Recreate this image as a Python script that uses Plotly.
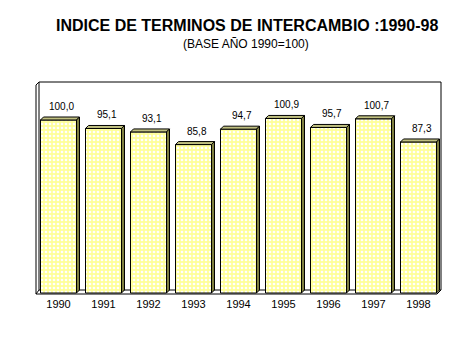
import plotly.graph_objects as go

years = ["1990", "1991", "1992", "1993", "1994", "1995", "1996", "1997", "1998"]
values = [100.0, 95.1, 93.1, 85.8, 94.7, 100.9, 95.7, 100.7, 87.3]
value_labels = ["100,0", "95,1", "93,1", "85,8", "94,7", "100,9", "95,7", "100,7", "87,3"]

title_text = "INDICE DE TERMINOS DE INTERCAMBIO :1990-98"
subtitle_text = "(BASE AÑO 1990=100)"

W, H = 476, 356
PL, PR, PT, PB = 36, 441, 82, 294      # plot area in pixels
PX_PER_UNIT = 1.73
Y_ZERO_PIX = 293
y_lo = -(PB - Y_ZERO_PIX) / PX_PER_UNIT
y_hi = (Y_ZERO_PIX - PT) / PX_PER_UNIT
cat_px = (PR - PL) / len(years)
BAR_W = 0.8
DX = 3 / cat_px
DY = 3 / PX_PER_UNIT

FONT = "Arial, Liberation Sans, sans-serif"
FRONT = "#ffff99"
TOP = "#c0c080"
SIDE = "#808040"


def px(xp):
    return (xp - PL) / (PR - PL)


def py(yp):
    return (PB - yp) / (PB - PT)


xs = list(range(len(years)))

fig = go.Figure()
fig.add_trace(go.Bar(
    x=xs, y=values, width=BAR_W,
    marker=dict(color=FRONT, line=dict(color="black", width=1),
                pattern=dict(shape=".", bgcolor=FRONT, fgcolor="white",
                             size=4, solidity=0.35, fillmode="replace")),
    hoverinfo="skip", showlegend=False,
))

shapes = []
# floor and walls
shapes.append(dict(type="path", xref="paper", yref="paper", layer="below",
                   path=f"M {px(36)},{py(294)} L {px(39)},{py(290)} L {px(441)},{py(290)} L {px(437)},{py(294)} Z",
                   fillcolor="white", line=dict(color="black", width=1)))
shapes.append(dict(type="path", xref="paper", yref="paper", layer="below",
                   path=f"M {px(39)},{py(290)} L {px(39)},{py(82)} L {px(441)},{py(82)} L {px(441)},{py(290)}",
                   line=dict(color="black", width=1)))
shapes.append(dict(type="path", xref="paper", yref="paper", layer="below",
                   path=f"M {px(36)},{py(294)} L {px(36)},{py(85)} L {px(39)},{py(82)}",
                   line=dict(color="black", width=1)))

for i, v in enumerate(values):
    x0 = i - BAR_W / 2
    x1 = i + BAR_W / 2
    shapes.append(dict(type="path", xref="x", yref="y", layer="above",
                       path=f"M {x0},{v} L {x0+DX},{v+DY} L {x1+DX},{v+DY} L {x1},{v} Z",
                       fillcolor=TOP, line=dict(color="black", width=1)))
    shapes.append(dict(type="path", xref="x", yref="y", layer="above",
                       path=f"M {x1},{0} L {x1},{v} L {x1+DX},{v+DY} L {x1+DX},{DY} Z",
                       fillcolor=SIDE, line=dict(color="black", width=1)))

annotations = []
for i, (v, t) in enumerate(zip(values, value_labels)):
    annotations.append(dict(x=i, y=v, xref="x", yref="y", text=t, showarrow=False,
                            xanchor="center", yanchor="bottom", yshift=6, xshift=3,
                            font=dict(family=FONT, size=10, color="black")))
annotations.append(dict(x=px(247), y=py(25), xref="paper", yref="paper", text=f"<b>{title_text}</b>",
                        showarrow=False, xanchor="center", yanchor="middle",
                        font=dict(family=FONT, size=16, color="black")))
annotations.append(dict(x=px(246), y=py(44), xref="paper", yref="paper", text=subtitle_text,
                        showarrow=False, xanchor="center", yanchor="middle",
                        font=dict(family=FONT, size=12, color="black")))

fig.update_layout(
    width=W, height=H,
    margin=dict(l=PL, r=W - PR, t=PT, b=H - PB, pad=0),
    paper_bgcolor="white", plot_bgcolor="white",
    shapes=shapes, annotations=annotations,
    xaxis=dict(range=[-0.5, len(years) - 0.5], tickvals=xs, ticktext=years,
               showgrid=False, zeroline=False, showline=False, ticks="",
               ticklabelstandoff=2,
               tickfont=dict(family=FONT, size=11, color="black")),
    yaxis=dict(range=[y_lo, y_hi], showgrid=False, zeroline=False, showline=False,
               showticklabels=False, ticks=""),
    bargap=0.2,
)

fig.write_html("out.html", config={"displayModeBar": False},
               post_script="document.body.style.margin='0';document.body.style.overflow='hidden';")
